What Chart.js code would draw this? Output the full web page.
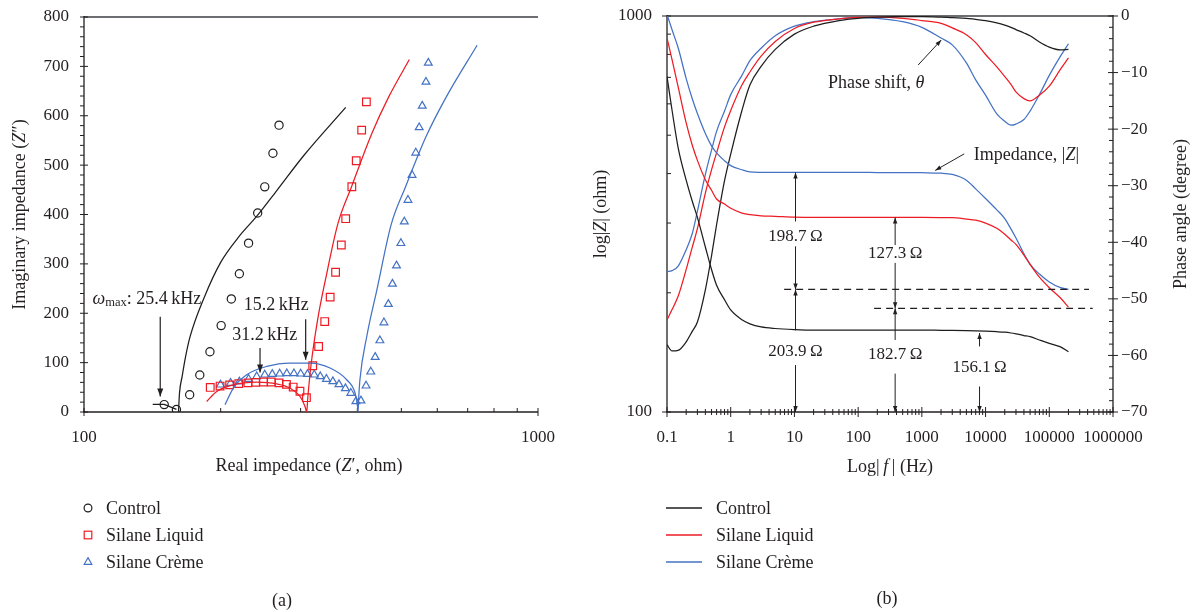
<!DOCTYPE html>
<html>
<head>
<meta charset="utf-8">
<title>Impedance spectra</title>
<script src="https://cdn.jsdelivr.net/npm/chart.js@4.4.1/dist/chart.umd.min.js"></script>
<style>
  html, body { margin:0; padding:0; background:#ffffff; }
  body { width:1198px; height:612px; position:relative; overflow:hidden;
         font-family:"Liberation Serif","Times New Roman",serif; color:#231f20; }
  canvas { position:absolute; top:0; }
  #cA { left:0; }
  #cB { left:570px; }
  .lg { position:absolute; font-size:18px; line-height:20px; white-space:nowrap; }
  .cap { position:absolute; font-size:18px; line-height:20px; transform:translate(-50%,-50%); }
</style>
</head>
<body>
<canvas id="cA" width="590" height="612"></canvas>
<canvas id="cB" width="628" height="612"></canvas>
<div id="legendA"></div>
<div id="legendB"></div>
<div class="cap" style="left:282px;top:600px">(a)</div>
<div class="cap" style="left:887px;top:598px">(b)</div>
<script>
const FONT = '"Liberation Serif", "Times New Roman", serif';
const INK = '#231f20';
const seriesNames  = ['Control', 'Silane Liquid', 'Silane Crème'];
const seriesColors = ['#1e1e1e', '#ed1c24', '#4472c4'];

// ---------- (a) Nyquist: measured points ----------
const controlRe = [150.2,159.8,170.9,179.9,189.4,200.5,211.1,219.9,230.4,241.3,250.1,260.7,268.9];
const controlIm = [15,5,35,75,122,175,229,280,342,403,456,524,581];
const liquidRe  = [189.7,199.4,209.3,219.2,229.6,238.8,248.5,258.5,268.9,279.2,288.9,299.0,309.0,
                   319.0,328.7,339.0,348.5,358.2,368.8,377.1,389.0,397.8,408.9,418.8];
const liquidIm  = [49.8,52.5,55,57.5,59,60,60.7,60.7,59,56,50.5,42,29,
                   93.6,132.7,183.2,232.6,283.1,338.3,391.5,456.2,508.8,570.9,628.1];
const cremeRe   = [199.8,210.3,219.9,230.4,240.1,250.1,259.8,269.8,279.7,290.0,300.1,310.6,321.5,331.5,342.0,353.3,364.4,376.5,387.0,397.1,407.4,
                   418.1,428.2,437.9,448.5,457.8,468.1,477.9,487.9,498.9,507.6,517.1,527.9,538.0,547.4,555.9,566.5,573.3];
const cremeIm   = [55.2,58.6,61.3,66.7,72.0,75.4,76.8,77.5,78.1,78.1,77.5,76.8,75.4,72.0,66.7,62.0,56.0,47.9,38.4,21.6,23.0,
                   53.2,81.5,111.2,144.8,181.2,218.4,259.5,296.5,341.8,385.4,429.3,479.9,525,576.3,620,668.5,707];

// ---------- (a) Nyquist: fitted curves ----------
const controlHfRe  = [141.7,150.2,159.8];
const controlHfIm  = [15.4,15.4,5.3];
const controlFitRe = [161.5,162.3,164.5,167.4,171.2,184,200,220.7,240,266.1,305.2,377.1];
const controlFitIm = [0,38,72,112,152,232,303,358,396,449,520,617];
const liquidFitRe  = [186.3,196.0,213.3,240.1,265.8,284.2,299.1,306.8,309.4,311.2,316.0,327.0,341.4,362.6,388.4,430.5,469.0,520.7];
const liquidFitIm  = [21.4,41.7,55.2,60.5,57,48.5,31.5,11.3,0,30,92.2,186.7,274.2,382,456.2,564.2,638.2,713.9];
const cremeFitRe   = [204.5,213.3,228.2,252.6,284.2,314.7,348.3,379.0,395.4,400.6,401.5,402.6,405.3,419.6,441.7,475,510.9,566.5,628.1,734.3];
const cremeFitIm   = [14.8,48.5,75.4,92.2,99.1,99.1,89.0,65.3,38.4,10,0,25,65.3,152.9,247.3,380,456.2,557.3,638.2,742.8];

// ---------- (a) ticks ----------
const nyqReTicks  = [100, 1000];
const nyqReLabels = ['100', '1000'];
const nyqReMinor  = [200,300,400,500,600,700,800,900];
const nyqImTicks  = [0,100,200,300,400,500,600,700,800];
const nyqImLabels = ['0','100','200','300','400','500','600','700','800'];

// ---------- (b) Bode ----------
const freqHz = [0.1,0.12,0.15,0.2,0.25,0.3,0.4,0.5,0.6,0.8,1,1.5,2,3,5,10,20,50,100,200,500,
                1000,2000,3000,5000,7000,10000,15000,20000,25000,30000,40000,50000,70000,100000,150000,200000];
const zControl = [703,578,464,385,340,310,261,229,209,192,181,171,167,164,162.5,161.5,161,161,161,161,161,
                  161,160.8,160.7,160.5,160.3,160,159.5,159,158.3,157.5,156,155,152,149,146,142];
const zLiquid  = [880,776,661,537,471,432,386,363,345,335,327,318,315,313,312,310.5,310,310,310,310,310,
                  310,309.8,309.5,307,305,300,291,281,272,265,249,236,219,206,194,184];
const zCreme   = [1010,923,830,695,617,567,505,470,451,431,419,409,404,403,402.6,402.6,402.6,402.6,402.6,402.5,402.3,
                  402,401,398,385,366,346,324,308,290,275,251,236,223,213,206,204];
const phaseControl = [-58.1,-59.2,-59.1,-57.6,-55.7,-54.1,-48.4,-42.4,-36.9,-29.1,-24.4,-16.7,-12.2,-8.9,-5.9,-3.2,-1.8,-0.8,-0.4,-0.2,-0.1,
                      -0.1,-0.2,-0.3,-0.4,-0.6,-0.8,-1.2,-1.6,-2.0,-2.4,-3.0,-3.5,-4.6,-5.5,-6.0,-5.9];
const phaseLiquid  = [-53.7,-51.9,-49.5,-44.8,-40.8,-37.6,-31.3,-27.2,-24.2,-19.6,-16.7,-12.2,-9.9,-7.1,-4.5,-2.2,-1.1,-0.5,-0.25,-0.2,-0.4,
                      -0.8,-1.3,-2.1,-3.3,-4.7,-6.8,-9.0,-10.7,-12.1,-13.4,-14.6,-15.0,-14.0,-12.4,-9.4,-7.4];
const phaseCreme   = [-45.2,-45.0,-44.2,-41.3,-38.4,-34.5,-28.0,-23.7,-20.4,-16.8,-13.9,-10.5,-7.9,-5.7,-3.5,-1.8,-1.0,-0.5,-0.3,-0.4,-1.0,
                      -2.0,-3.9,-5.1,-8.3,-11.3,-14.0,-17.3,-18.6,-19.3,-19.1,-18.3,-16.8,-13.9,-10.5,-7.1,-4.9];
const hfLimits = [203.9, 182.7];   // dashed high-frequency |Z| limits (Crème, Liquid)

const bodeFTicks  = [0.1,1,10,100,1000,10000,100000,1000000];
const bodeFLabels = ['0.1','1','10','100','1000','10000','100000','1000000'];
const bodeZTicks  = [100, 1000];
const bodeZLabels = ['100', '1000'];
const bodeZMinor  = [200,300,400,500,600,700,800,900];
const bodePTicks  = [0,-10,-20,-30,-40,-50,-60,-70];
const bodePLabels = ['0','\u221210','\u221220','\u221230','\u221240','\u221250','\u221260','\u221270'];

// ---------- helpers ----------
function pts(xs, ys){ return xs.map((v,i)=>({x:v, y:ys[i]})); }
function seg(ctx,x1,y1,x2,y2){ ctx.beginPath(); ctx.moveTo(x1,y1); ctx.lineTo(x2,y2); ctx.stroke(); }
function arrow(ctx,x1,y1,x2,y2,L,W){
  seg(ctx,x1,y1,x2,y2);
  const ang=Math.atan2(y2-y1,x2-x1), c=Math.cos(ang), s=Math.sin(ang);
  ctx.beginPath(); ctx.moveTo(x2,y2);
  ctx.lineTo(x2-L*c+W*s, y2-L*s-W*c);
  ctx.lineTo(x2-L*c-W*s, y2-L*s+W*c);
  ctx.closePath(); ctx.fill();
}
function rich(ctx, parts, x, y, align, rot){
  ctx.save(); ctx.translate(x,y); if(rot) ctx.rotate(rot);
  ctx.textBaseline='middle'; ctx.textAlign='left'; ctx.fillStyle=INK;
  const fonts=parts.map(p=>(p.i?'italic ':'')+(p.s||18)+'px '+FONT);
  const ws=parts.map((p,k)=>{ ctx.font=fonts[k]; return ctx.measureText(p.t).width; });
  const tot=ws.reduce((a,b)=>a+b,0);
  let cx = align==='center' ? -tot/2 : (align==='right' ? -tot : 0);
  parts.forEach((p,k)=>{ ctx.font=fonts[k]; ctx.fillText(p.t,cx,p.dy||0); cx+=ws[k]; });
  ctx.restore();
}
const tickFont = {family: FONT, size: 17};
const fixW = w => s => { s.width = w; s.paddingTop = 0; s.paddingBottom = 0; };
const fixH = h => s => { s.height = h; s.paddingLeft = 0; s.paddingRight = 0; };
const setTicks = vals => s => { s.ticks = vals.map(v=>({value:v})); };
const noGrid = {display:false, drawTicks:false, tickLength:0};

// ---------- (a) decoration plugin ----------
const nyqPlugin = {
  id:'nyqDecor',
  beforeDatasetsDraw(chart){
    const {ctx, chartArea:a, scales:{x,y}} = chart;
    ctx.save();
    ctx.strokeStyle='#6d6e71'; ctx.lineWidth=2;
    seg(ctx, a.left, a.top, a.right, a.top);
    ctx.strokeStyle=INK; ctx.lineWidth=1.3;
    seg(ctx, a.left, a.top-1, a.left, a.bottom+0.6);
    seg(ctx, a.left-0.6, a.bottom, a.right, a.bottom);
    ctx.lineWidth=1;
    for(let v=0; v<=800; v+=20){
      const p=y.getPixelForValue(v);
      if(v%100===0) seg(ctx,a.left-4,p,a.left+4,p); else seg(ctx,a.left-4,p,a.left,p);
    }
    nyqReMinor.forEach(v=>{ const p=x.getPixelForValue(v); seg(ctx,p,a.bottom,p,a.bottom-4); });
    nyqReTicks.forEach(v=>{ const p=x.getPixelForValue(v); seg(ctx,p,a.bottom-4,p,a.bottom+4); });
    ctx.restore();
  },
  afterDatasetsDraw(chart){
    const {ctx, chartArea:a, scales:{x,y}} = chart;
    const X=v=>x.getPixelForValue(v), Y=v=>y.getPixelForValue(v);
    ctx.save();
    ctx.strokeStyle=INK; ctx.fillStyle=INK; ctx.lineWidth=1.2;
    arrow(ctx, X(147.2), Y(193), X(147.2), Y(31.5), 8, 3);
    arrow(ctx, X(307.8), Y(188), X(307.8), Y(105.8), 8, 3);
    arrow(ctx, X(244.2), Y(129.4), X(244.2), Y(80), 8, 3);
    rich(ctx, [{t:'\u03C9', i:true},{t:'max', s:12.5, dy:4},{t:': 25.4\u2009kHz'}], X(104.4), Y(228.5), 'left');
    rich(ctx, [{t:'15.2\u2009kHz'}], X(265.2), Y(217), 'center');
    rich(ctx, [{t:'31.2\u2009kHz'}], X(250.1), Y(155), 'center');
    rich(ctx, [{t:'Real impedance ('},{t:'Z', i:true},{t:'\u2032, ohm)'}], (a.left+a.right)/2-2, 466, 'center');
    rich(ctx, [{t:'Imaginary impedance ('},{t:'Z', i:true},{t:'\u2033)'}], 20, (a.top+a.bottom)/2, 'center', -Math.PI/2);
    ctx.restore();
  }
};

// ---------- (b) decoration plugin ----------
const bodePlugin = {
  id:'bodeDecor',
  beforeDatasetsDraw(chart){
    const {ctx, chartArea:a, scales:{x,yZ,yP}} = chart;
    ctx.save();
    ctx.strokeStyle='#6d6e71'; ctx.lineWidth=2;
    seg(ctx, a.left, a.top, a.right, a.top);
    ctx.strokeStyle=INK; ctx.lineWidth=1.3;
    seg(ctx, a.left, a.top-1, a.left, a.bottom+0.6);
    seg(ctx, a.right, a.top-1, a.right, a.bottom+0.6);
    seg(ctx, a.left-0.6, a.bottom, a.right+0.6, a.bottom);
    ctx.lineWidth=1;
    for(let d=-1; d<6; d++){
      for(let m=1; m<10; m++){
        const f=m*Math.pow(10,d), p=x.getPixelForValue(f);
        if(m===1) seg(ctx,p,a.bottom-5,p,a.bottom+5); else seg(ctx,p,a.bottom-3,p,a.bottom+3);
      }
    }
    { const p=x.getPixelForValue(1e6); seg(ctx,p,a.bottom-5,p,a.bottom+5); }
    bodeZMinor.forEach(v=>{ const p=yZ.getPixelForValue(v); seg(ctx,a.left,p,a.left+4,p); });
    bodeZTicks.forEach(v=>{ const p=yZ.getPixelForValue(v); seg(ctx,a.left-5,p,a.left+4,p); });
    for(let v=0; v>=-70; v-=2){
      const p=yP.getPixelForValue(v);
      if(v%10===0) seg(ctx,a.right-5,p,a.right+5,p); else seg(ctx,a.right-4,p,a.right,p);
    }
    ctx.restore();
  },
  afterDatasetsDraw(chart){
    const {ctx, chartArea:a, scales:{x,yZ,yP}} = chart;
    const X=v=>x.getPixelForValue(v), YZ=v=>yZ.getPixelForValue(v), YP=v=>yP.getPixelForValue(v);
    ctx.save();
    ctx.strokeStyle=INK; ctx.fillStyle=INK;
    ctx.lineWidth=1.3; ctx.setLineDash([7,5]);
    seg(ctx, X(6.9), YZ(hfLimits[0]), X(4.2e5), YZ(hfLimits[0]));
    seg(ctx, X(178), YZ(hfLimits[1]), X(4.8e5), YZ(hfLimits[1]));
    ctx.setLineDash([]);
    ctx.lineWidth=1;
    const L=6, W=2.2;
    arrow(ctx, X(10.4), YZ(302.8), X(10.4), YZ(402.6), L, W);
    arrow(ctx, X(10.4), YZ(262),   X(10.4), YZ(hfLimits[0]), L, W);
    arrow(ctx, X(10.4), YZ(160.8), X(10.4), YZ(hfLimits[0]), L, W);
    arrow(ctx, X(10.4), YZ(131.4), X(10.4), YZ(100), L, W);
    arrow(ctx, X(381), YZ(264), X(381), YZ(310), L, W);
    arrow(ctx, X(381), YZ(238), X(381), YZ(hfLimits[1]), L, W);
    arrow(ctx, X(381), YZ(152), X(381), YZ(hfLimits[1]), L, W);
    arrow(ctx, X(381), YZ(125), X(381), YZ(100), L, W);
    arrow(ctx, X(8040), YZ(146.4), X(8040), YZ(158.3), L, W);
    arrow(ctx, X(8040), YZ(116), X(8040), YZ(100), L, W);
    arrow(ctx, X(875), YP(-8.66), X(2014), YP(-4.24), L, W);
    arrow(ctx, X(4624), YZ(448.6), X(1622), YZ(407.5), L, W);
    rich(ctx, [{t:'198.7\u2009\u03A9', s:17}], X(10.4), YZ(276.6), 'center');
    rich(ctx, [{t:'203.9\u2009\u03A9', s:17}], X(10.4), YZ(142.2), 'center');
    rich(ctx, [{t:'127.3\u2009\u03A9', s:17}], X(381), YZ(250.6), 'center');
    rich(ctx, [{t:'182.7\u2009\u03A9', s:17}], X(381), YZ(139.7), 'center');
    rich(ctx, [{t:'156.1\u2009\u03A9', s:17}], X(8040), YZ(129.2), 'center');
    rich(ctx, [{t:'Phase shift, '},{t:'\u03B8', i:true}], X(33.7), YP(-11.9), 'left');
    rich(ctx, [{t:'Impedance, |'},{t:'Z', i:true},{t:'|'}], X(6550), YZ(445.6), 'left');
    rich(ctx, [{t:'Log|\u2009'},{t:'f', i:true},{t:'\u2009| (Hz)'}], (a.left+a.right)/2, 467, 'center');
    rich(ctx, [{t:'log|'},{t:'Z', i:true},{t:'| (ohm)'}], 31, (a.top+a.bottom)/2, 'center', -Math.PI/2);
    rich(ctx, [{t:'Phase angle (degree)'}], 611, (a.top+a.bottom)/2, 'center', -Math.PI/2);
    ctx.restore();
  }
};

const commonOpts = { responsive:false, animation:false, devicePixelRatio:1, events:[],
  plugins:{ legend:{display:false}, tooltip:{enabled:false} } };

const lineDs = (label, data, color, yAxisID) => ({
  label, data, showLine:true, borderColor:color, backgroundColor:color, borderWidth:1.25,
  pointRadius:0, pointHoverRadius:0, cubicInterpolationMode:'monotone', fill:false, yAxisID });
const markDs = (label, data, color, style, r) => ({
  label, data, showLine:false, pointStyle:style, pointRadius:r, pointHoverRadius:r,
  borderColor:color, backgroundColor:'rgba(0,0,0,0)', pointBorderWidth:1.2, borderWidth:1.2 });

// ---------- chart (a) ----------
new Chart(document.getElementById('cA'), {
  type:'scatter',
  data:{ datasets:[
    lineDs('Control fit', pts(controlFitRe, controlFitIm), seriesColors[0]),
    Object.assign(lineDs('Control fit (HF)', pts(controlHfRe, controlHfIm), seriesColors[0]), {cubicInterpolationMode:'default', tension:0}),
    lineDs('Silane Liquid fit', pts(liquidFitRe, liquidFitIm), seriesColors[1]),
    lineDs('Silane Crème fit', pts(cremeFitRe, cremeFitIm), seriesColors[2]),
    markDs(seriesNames[0], pts(controlRe, controlIm), seriesColors[0], 'circle', 4.1),
    markDs(seriesNames[1], pts(liquidRe, liquidIm), seriesColors[1], 'rect', 5.4),
    markDs(seriesNames[2], pts(cremeRe, cremeIm), seriesColors[2], 'triangle', 4.5)
  ]},
  options: Object.assign({}, commonOpts, {
    layout:{ padding:{left:0, right:52, top:17, bottom:160} },
    scales:{
      x:{ type:'logarithmic', min:100, max:1000, grid:noGrid, border:{display:false},
          afterBuildTicks:setTicks(nyqReTicks), afterFit:fixH(40),
          ticks:{ autoSkip:false, maxRotation:0, minRotation:0, padding:15, font:tickFont, color:INK,
                  callback:(v,i)=>nyqReLabels[i] } },
      y:{ type:'linear', min:0, max:800, grid:noGrid, border:{display:false},
          afterBuildTicks:setTicks(nyqImTicks), afterFit:fixW(84),
          ticks:{ autoSkip:false, padding:15, font:tickFont, color:INK, callback:(v,i)=>nyqImLabels[i] } }
    }
  }),
  plugins:[nyqPlugin]
});

// ---------- chart (b) ----------
new Chart(document.getElementById('cB'), {
  type:'scatter',
  data:{ datasets:[
    lineDs(seriesNames[0]+' |Z|', pts(freqHz, zControl), seriesColors[0], 'yZ'),
    lineDs(seriesNames[1]+' |Z|', pts(freqHz, zLiquid), seriesColors[1], 'yZ'),
    lineDs(seriesNames[2]+' |Z|', pts(freqHz, zCreme), seriesColors[2], 'yZ'),
    lineDs(seriesNames[0]+' phase', pts(freqHz, phaseControl), seriesColors[0], 'yP'),
    lineDs(seriesNames[1]+' phase', pts(freqHz, phaseLiquid), seriesColors[1], 'yP'),
    lineDs(seriesNames[2]+' phase', pts(freqHz, phaseCreme), seriesColors[2], 'yP')
  ]},
  options: Object.assign({}, commonOpts, {
    layout:{ padding:{left:0, right:0, top:16, bottom:160} },
    scales:{
      x:{ type:'logarithmic', min:0.1, max:1000000, grid:noGrid, border:{display:false},
          afterBuildTicks:setTicks(bodeFTicks), afterFit:fixH(40),
          ticks:{ autoSkip:false, maxRotation:0, minRotation:0, padding:15, font:tickFont, color:INK,
                  callback:(v,i)=>bodeFLabels[i] } },
      yZ:{ type:'logarithmic', position:'left', min:100, max:1000, grid:noGrid, border:{display:false},
           afterBuildTicks:setTicks(bodeZTicks), afterFit:fixW(97),
           ticks:{ autoSkip:false, padding:15, font:tickFont, color:INK, callback:(v,i)=>bodeZLabels[i] } },
      yP:{ type:'linear', position:'right', min:-70, max:0, grid:noGrid, border:{display:false},
           afterBuildTicks:setTicks(bodePTicks), afterFit:fixW(85),
           ticks:{ autoSkip:false, padding:8, font:tickFont, color:INK, callback:(v,i)=>bodePLabels[i] } }
    }
  }),
  plugins:[bodePlugin]
});

// ---------- legends (HTML) ----------
const legendRowY = [508, 535, 561.5];
(function(){
  const la=document.getElementById('legendA'), lb=document.getElementById('legendB');
  const shapes=['circle','square','triangle'];
  seriesNames.forEach((name,i)=>{
    const c=seriesColors[i], cy=legendRowY[i];
    let mk;
    if(shapes[i]==='circle') mk='<circle cx="7" cy="7" r="3.9" fill="none" stroke="'+c+'" stroke-width="1.2"/>';
    else if(shapes[i]==='square') mk='<rect x="3.2" y="3.2" width="7.6" height="7.6" fill="none" stroke="'+c+'" stroke-width="1.2"/>';
    else mk='<polygon points="7,2.6 10.8,9.3 3.2,9.3" fill="none" stroke="'+c+'" stroke-width="1.2"/>';
    const a=document.createElement('div');
    a.className='lg'; a.style.left='81px'; a.style.top=(cy-10)+'px';
    a.innerHTML='<svg width="14" height="14" style="position:absolute;left:0;top:3px">'+mk+'</svg>'+
                '<span style="position:absolute;left:25px;top:0">'+name+'</span>';
    la.appendChild(a);
    const b=document.createElement('div');
    b.className='lg'; b.style.left='666px'; b.style.top=(cy-10)+'px';
    b.innerHTML='<svg width="36" height="4" style="position:absolute;left:0;top:8px"><line x1="0" y1="2" x2="36" y2="2" stroke="'+c+'" stroke-width="1.3"/></svg>'+
                '<span style="position:absolute;left:50px;top:0">'+name+'</span>';
    lb.appendChild(b);
  });
})();
</script>
</body>
</html>
